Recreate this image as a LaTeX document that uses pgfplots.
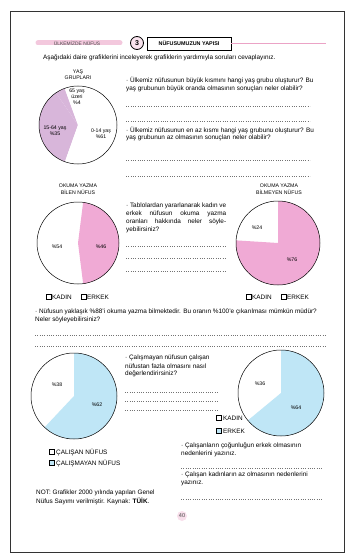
\documentclass[border=0pt]{standalone}
\usepackage{pgfplots}
\pgfplotsset{compat=1.18}
\usepackage{fontspec}
\setmainfont{Liberation Sans}

\definecolor{lav}{HTML}{D8B6DA}
\definecolor{pnk}{HTML}{F0AAD5}
\definecolor{blu}{HTML}{BFE6F6}
\definecolor{hdr}{HTML}{EBA3C6}

% one slice: start angle, percent, radius, colour
\newcommand{\slice}[4]{\fill[#4] (axis cs:0,0) -- ++(#1:#3) arc[start angle=#1, delta angle=3.6*#2, radius=#3] -- cycle;}
\newcommand{\ltxt}[3]{\node[anchor=west, inner sep=0pt] at (#1,#2) {#3};}
\newcommand{\jtxt}[3]{\node[anchor=west, inner sep=0pt] at (#1,#2) {\makebox[100pt][s]{#3}};}
\newcommand{\ctxt}[3]{\node[inner sep=0pt, align=center, font=\fontsize{5.2}{6}\selectfont] at (#1,#2) {#3};}
\newcommand{\dotline}[3]{\draw[dotted, line width=0.3pt, black!55] (#1,#3) -- (#2,#3);}
\newcommand{\cbox}[3]{\draw[line width=0.4pt, fill=#3] (#1,#2-2.4) rectangle ++(4.8,4.8);}

\pgfplotsset{pie/.style={hide axis, scale only axis, clip=false,
    xmin=-1, xmax=1, ymin=-1, ymax=1, anchor=origin}}

\begin{document}
\begin{tikzpicture}[x=1pt, y=-1pt, font=\fontsize{6.4}{7.2}\selectfont]
\path (0,0) rectangle (353,559);
\draw[line width=0.6pt, black!80] (10,11) rectangle (344,552);

% header
\draw[hdr!60, line width=5pt, line cap=round] (38,43) -- (120,43);
\node[font=\fontsize{4.9}{5}\selectfont, black!70] at (77,43) {ÜLKEMİZDE NÜFUS};
\draw[line width=0.8pt, fill=hdr!30] (137,43) circle[radius=6.5];
\node[font=\bfseries\fontsize{7}{8}\selectfont] at (137,43) {3};
\draw[line width=0.6pt] (147,37) rectangle (231,50);
\node[font=\bfseries\fontsize{5.4}{6}\selectfont] at (189,43.5) {NÜFUSUMUZUN YAPISI};
\draw[hdr, line width=0.8pt] (231,43) -- (326,43);

\ltxt{43}{58}{Aşağıdaki daire grafiklerini inceleyerek grafiklerin yardımıyla soruları cevaplayınız.}

% pie 1
\ctxt{78}{72}{YAŞ}
\ctxt{78}{78}{GRUPLARI}
\begin{axis}[pie, width=78pt, height=78pt, at={(78pt,-125pt)}]
  \slice{110}{4}{39pt}{lav}
  \slice{124.4}{35}{39pt}{lav}
  \slice{250.4}{61}{39pt}{white}
  \draw[line width=0.5pt] (axis cs:0,0) circle[radius=39pt];
\end{axis}
\ctxt{77}{97}{65 yaş\\üzeri\\\%4}
\ctxt{55}{131}{15-64 yaş\\\%35}
\ctxt{101}{134}{0-14 yaş\\\%61}

\ltxt{126}{81}{· Ülkemiz nüfusunun büyük kısmını hangi yaş grubu oluşturur? Bu}
\ltxt{126}{89}{yaş grubunun büyük oranda olmasının sonuçları neler olabilir?}
\dotline{126}{310}{106}
\dotline{126}{310}{121}
\ltxt{126}{130}{· Ülkemiz nüfusunun en az kısmı hangi yaş grubunu oluşturur? Bu}
\ltxt{126}{138}{yaş grubunun az olmasının sonuçları neler olabilir?}
\dotline{126}{310}{160}
\dotline{126}{310}{176}

% pie 2
\ctxt{78}{186}{OKUMA YAZMA}
\ctxt{78}{192}{BİLEN NÜFUS}
\begin{axis}[pie, width=82pt, height=82pt, at={(78pt,-243pt)}]
  \slice{-82.8}{46}{41pt}{pnk}
  \draw[line width=0.5pt] (axis cs:0,0) circle[radius=41pt];
\end{axis}
\ctxt{57}{247}{\%54}
\ctxt{101}{247}{\%46}

\jtxt{126}{206}{· Tablolardan yararlanarak kadın ve}
\jtxt{126}{214}{erkek nüfusun okuma yazma}
\jtxt{126}{222}{oranları hakkında neler söyle-}
\ltxt{126}{230}{yebilirsiniz?}
\dotline{126}{226}{246}
\dotline{126}{226}{258}
\dotline{126}{226}{271}

% pie 3
\ctxt{279}{186}{OKUMA YAZMA}
\ctxt{279}{192}{BİLMEYEN NÜFUS}
\begin{axis}[pie, width=84pt, height=84pt, at={(278pt,-243pt)}]
  \slice{90}{24}{42pt}{white}
  \slice{176.4}{76}{42pt}{pnk}
  \draw[line width=0.5pt] (axis cs:0,0) circle[radius=42pt];
\end{axis}
\ctxt{257}{228}{\%24}
\ctxt{292}{260}{\%76}

% legends row
\cbox{46}{297}{white} \ltxt{52}{297}{KADIN}
\cbox{81}{297}{white} \ltxt{87}{297}{ERKEK}
\cbox{246}{297}{white} \ltxt{252}{297}{KADIN}
\cbox{281}{297}{white} \ltxt{287}{297}{ERKEK}

\ltxt{35}{312}{· Nüfusun yaklaşık \%88'i okuma yazma bilmektedir. Bu oranın \%100'e çıkarılması mümkün müdür?}
\ltxt{35}{320}{Neler söyleyebilirsiniz?}
\dotline{35}{326}{335}
\dotline{35}{326}{346}

% pie 4
\begin{axis}[pie, width=86pt, height=86pt, at={(74pt,-396pt)}]
  \slice{90}{38}{43pt}{white}
  \slice{226.8}{62}{43pt}{blu}
  \draw[line width=0.5pt] (axis cs:0,0) circle[radius=43pt];
\end{axis}
\ctxt{57}{385}{\%38}
\ctxt{97}{405}{\%62}

\ltxt{125}{358}{· Çalışmayan nüfusun çalışan}
\ltxt{125}{366}{nüfustan fazla olmasını nasıl}
\ltxt{125}{374}{değerlendirirsiniz?}
\dotline{125}{218}{392}
\dotline{125}{218}{401}
\dotline{125}{218}{410}

% pie 5
\begin{axis}[pie, width=86pt, height=86pt, at={(281pt,-393pt)}]
  \slice{90}{36}{43pt}{white}
  \slice{219.6}{64}{43pt}{blu}
  \draw[line width=0.5pt] (axis cs:0,0) circle[radius=43pt];
\end{axis}
\ctxt{260}{384}{\%36}
\ctxt{296}{408}{\%64}

\cbox{216}{418}{white} \ltxt{223}{418}{KADIN}
\cbox{216}{431}{blu} \ltxt{223}{431}{ERKEK}

\cbox{49}{452}{white} \ltxt{56}{452}{ÇALIŞAN NÜFUS}
\cbox{49}{463}{blu} \ltxt{56}{463}{ÇALIŞMAYAN NÜFUS}

\ltxt{181}{446}{· Çalışanların çoğunluğun erkek olmasının}
\ltxt{181}{454}{nedenlerini yazınız.}
\dotline{181}{322}{468}
\ltxt{181}{475}{· Çalışan kadınların az olmasının nedenlerini}
\ltxt{181}{483}{yazınız.}
\dotline{181}{322}{499}

\ltxt{36}{493}{NOT: Grafikler 2000 yılında yapılan Genel}
\ltxt{36}{501}{Nüfus Sayımı verilmiştir. Kaynak: \textbf{TÜİK}.}

\fill[hdr!35] (182,516) circle[radius=5];
\node[font=\fontsize{5.6}{6}\selectfont, black!70] at (182,516) {40};
\end{tikzpicture}
\end{document}
